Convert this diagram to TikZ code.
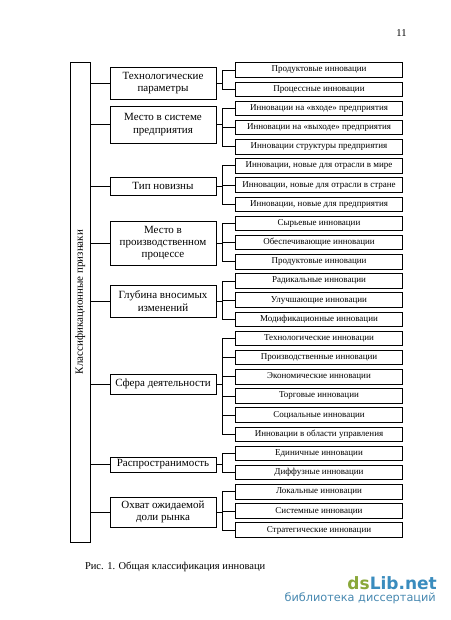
\documentclass[tikz,border=0pt]{standalone}
\usepackage{fontspec}
\setmainfont{Liberation Serif}
\newfontfamily\wmfont{DejaVu Sans}
\usetikzlibrary{positioning}

\definecolor{wmgreen}{RGB}{138,168,58}
\definecolor{wmblue}{RGB}{58,140,190}

\tikzset{
  kbox/.style={draw, line width=0.8pt, minimum width=106pt, align=center, inner sep=1pt,
    font=\fontsize{11}{12.3}\selectfont},
  vbox/.style={draw, line width=0.8pt, minimum width=166.5pt, minimum height=14.5pt, inner sep=0pt,
    font=\fontsize{9}{9.5}\selectfont},
  svyaz/.style={line width=0.7pt},
}

\begin{document}
\begin{tikzpicture}[x=1pt, y=-1pt]

        % Page
        \useasboundingbox[fill=white] (0,0) rectangle (450,620);

        % Classification box
        \node[draw, line width=0.8pt, rotate=90, minimum width=480pt, minimum height=20.5pt,
          inner sep=0pt, font=\fontsize{11}{12}\selectfont] (klass) at (80.3,302) {Классификационные признаки};

        % Groups
        \node[kbox, minimum height=32pt] (c1) at (163,83) {Технологические\\параметры};
        \node[kbox, minimum height=37pt] (c2) at (163,124.5) {Место в системе\\предприятия};
        \node[kbox, minimum height=17.5pt] (c3) at (163,186.3) {Тип новизны};
        \node[kbox, minimum height=44pt] (c4) at (163,243) {Место в\\производственном\\процессе};
        \node[kbox, minimum height=32pt] (c5) at (163,301) {Глубина вносимых\\изменений};
        \node[kbox, minimum height=20pt] (c6) at (163,384) {Сфера деятельности};
        \node[kbox, minimum height=15pt] (c7) at (163,464.5) {Распространимость};
        \node[kbox, minimum height=30pt] (c8) at (163,512) {Охват ожидаемой\\доли рынка};

        % Kinds of innovation
        \foreach \t [count=\i] in {Продуктовые инновации, Процессные инновации,
            Инновации на «входе» предприятия, Инновации на «выходе» предприятия,
            Инновации структуры предприятия,
            {Инновации, новые для отрасли в мире}, {Инновации, новые для отрасли в стране},
            {Инновации, новые для предприятия},
            Сырьевые инновации, Обеспечивающие инновации, Продуктовые инновации,
            Радикальные инновации, Улучшающие инновации, Модификационные инновации,
            Технологические инновации, Производственные инновации, Экономические инновации,
            Торговые инновации, Социальные инновации, Инновации в области управления,
            Единичные инновации, Диффузные инновации,
            Локальные инновации, Системные инновации, Стратегические инновации} {
            \node[vbox] (r\i) at (319,{70+(\i-1)*19.17}) {\t};
        }

        % Lines from the classification box
        \foreach \c in {1,...,8} {
            \draw[svyaz] (c\c.west -| klass.south) -- (c\c.west);
        }

        % Brackets to the kinds
        \foreach \c/\from/\to in {1/1/2, 2/3/5, 3/6/8, 4/9/11, 5/12/14, 6/15/20, 7/21/22, 8/23/25} {
            \foreach \r in {\from,...,\to} {
                \draw[svyaz] (r\r.west) -- ++(-13.5,0) |- (c\c.east);
            }
        }

        % Page number and caption
        \node[font=\fontsize{10.5}{12}\selectfont] (nomer) at (401.5,33) {11};
        \node[anchor=west, font=\fontsize{10.5}{12}\selectfont] (podpis) at (81.5,566.5)
          {Рис. 1. Общая классификация инноваци};

        % Watermark
        \node[anchor=east, font=\wmfont\bfseries\fontsize{17}{18}\selectfont, inner sep=0pt] (dslib) at (437,583)
          {\textcolor{wmgreen}{ds}\textcolor{wmblue}{Lib.net}};
        \node[anchor=east, font=\wmfont\fontsize{11.3}{12}\selectfont, text=wmblue!80!gray, inner sep=0pt] (biblio) at (436,598.5)
          {библиотека диссертаций};

    \end{tikzpicture}
\end{document}
